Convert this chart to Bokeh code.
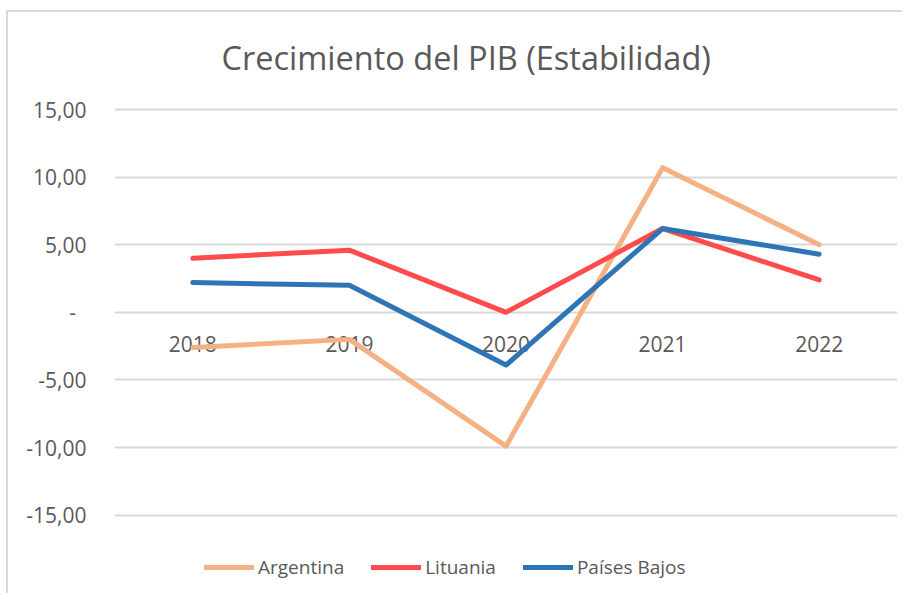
from bokeh.plotting import figure
from bokeh.models import FixedTicker, Legend, LegendItem, Range1d, ColumnDataSource
from bokeh.core.properties import value
from bokeh.embed import file_html
from bokeh.resources import INLINE

years = ["2018", "2019", "2020", "2021", "2022"]
argentina = [-2.6, -2.0, -9.9, 10.7, 5.0]
lituania = [4.0, 4.6, 0.0, 6.2, 2.4]
paises_bajos = [2.2, 2.0, -3.9, 6.2, 4.3]
y_ticks = [-15, -10, -5, 0, 5, 10, 15]
y_tick_labels = ["-15,00", "-10,00", "-5,00", "-\u2002", "5,00", "10,00", "15,00"]
series_names = ["Argentina", "Lituania", "Países Bajos"]
series_colors = ["#F4B183", "#FF4B4B", "#2E75B6"]
title_text = "Crecimiento del PIB (Estabilidad)"

FONT = "Open Sans"
GRAY = "#595959"

# frame spans extra room below -15 so the legend sits inside it
p = figure(width=896, height=583, x_range=years, y_range=Range1d(-19.91, 15.67),
           x_axis_type=None, output_backend="svg", toolbar_location=None,
           min_border_left=106, min_border_right=7, min_border_top=88,
           min_border_bottom=14,
           styles={"border-left": "2px solid #D9D9D9", "border-top": "2px solid #D9D9D9",
                   "margin-left": "6px", "margin-top": "10px"})

p.title.text = title_text
p.title.text_font = FONT
p.title.text_font_size = "32.5px"
p.title.text_font_style = "normal"
p.title.text_color = GRAY
p.title.align = "left"
p.title.offset = 107
p.title.standoff = 41

p.outline_line_color = None
p.yaxis.ticker = FixedTicker(ticks=y_ticks)
p.yaxis.major_label_overrides = dict(zip(y_ticks, y_tick_labels))
p.yaxis.axis_line_color = None
p.yaxis.major_tick_line_color = None
p.yaxis.minor_tick_line_color = None
p.yaxis.major_tick_out = 0
p.yaxis.major_tick_in = 0
p.yaxis.major_label_standoff = 28
p.yaxis.major_label_text_font = FONT
p.yaxis.major_label_text_font_size = "21px"
p.yaxis.major_label_text_color = GRAY
p.ygrid.grid_line_color = "#D9D9D9"
p.ygrid.grid_line_width = 2

src = ColumnDataSource(dict(x=years, y=[0] * len(years), t=years))
p.text(x="x", y="y", text="t", source=src, text_font=value(FONT),
       text_font_size=value("21px"), text_color=GRAY, text_align="center",
       text_baseline="middle", y_offset=32)

items = []
for name, vals, col in zip(series_names, [argentina, lituania, paises_bajos], series_colors):
    r = p.line(years, vals, line_color=col, line_width=5, line_join="round", line_cap="round")
    items.append(LegendItem(label=name, renderers=[r]))

legend = Legend(items=items, orientation="horizontal", location=(90, 1),
                glyph_width=50, glyph_height=20, label_standoff=4, spacing=27,
                padding=0, margin=0, border_line_color=None, background_fill_alpha=0,
                label_text_font=FONT, label_text_font_size="19px", label_text_color=GRAY)
p.add_layout(legend)

open("out.html", "w").write(file_html(p, INLINE))
